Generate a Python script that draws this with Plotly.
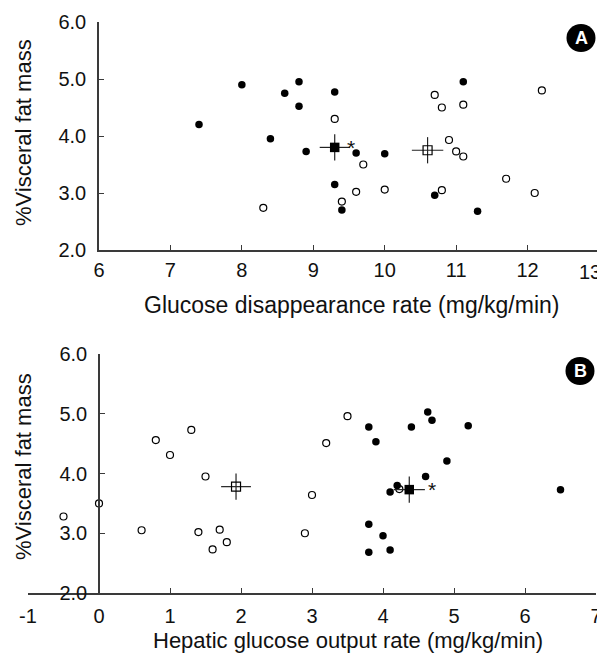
import plotly.graph_objects as go

# ---------- Panel A data: glucose disappearance rate vs %visceral fat mass
a_filled_x = [7.4, 8.0, 8.6, 8.8, 8.8, 9.3, 8.4, 8.9, 9.6, 9.3, 9.4, 11.1, 10.0, 10.7, 11.3]
a_filled_y = [4.2, 4.9, 4.75, 4.95, 4.52, 4.77, 3.95, 3.73, 3.7, 3.15, 2.7, 4.95, 3.69, 2.96, 2.68]
a_open_x = [9.3, 8.3, 9.6, 9.4, 10.7, 10.8, 11.1, 12.2, 10.9, 11.0, 11.1, 9.7, 10.0, 10.8, 11.7, 12.1]
a_open_y = [4.3, 2.74, 3.02, 2.85, 4.72, 4.5, 4.55, 4.8, 3.93, 3.73, 3.64, 3.5, 3.06, 3.05, 3.25, 3.0]
# means [filled, open] and SEM
a_mean_x = [9.3, 10.6]
a_mean_y = [3.80, 3.75]
a_sem_x = [0.21, 0.22]
a_sem_y = [0.23, 0.23]

# ---------- Panel B data: hepatic glucose output rate vs %visceral fat mass
b_filled_x = [4.63, 4.69, 3.8, 4.4, 5.2, 3.9, 4.9, 4.6, 4.2, 4.1, 6.5, 3.8, 4.0, 4.1, 3.8]
b_filled_y = [5.03, 4.89, 4.78, 4.78, 4.8, 4.53, 4.21, 3.95, 3.8, 3.69, 3.73, 3.15, 2.96, 2.72, 2.68]
b_open_x = [-0.5, 0.0, 0.6, 0.8, 1.0, 1.3, 1.5, 1.4, 1.7, 1.6, 1.8, 2.9, 3.0, 3.2, 3.5, 4.23]
b_open_y = [3.28, 3.5, 3.05, 4.56, 4.31, 4.73, 3.95, 3.02, 3.06, 2.73, 2.85, 3.0, 3.64, 4.51, 4.96, 3.74]
b_mean_x = [4.37, 1.93]
b_mean_y = [3.73, 3.78]
b_sem_x = [0.22, 0.21]
b_sem_y = [0.22, 0.22]

y_ticks = [2, 3, 4, 5, 6]
y_tick_text = ["2.0", "3.0", "4.0", "5.0", "6.0"]
a_x_ticks = [6, 7, 8, 9, 10, 11, 12, 13]
a_x_tick_text = ["6", "7", "8", "9", "10", "11", "12", ""]
b_x_ticks = [-1, 0, 1, 2, 3, 4, 5, 6, 7]
b_x_tick_text = ["-1", "0", "1", "2", "3", "4", "5", "6", "7"]

FONT = "Liberation Sans, Arial, sans-serif"
AX = "#3a3a3a"
TICK_SIZE = 20

# page body has an 8px margin; the figure is sized to fit the 605x654 window
OFF = 8
W, H = 605 - OFF, 654 - OFF
ML, MR, MT, MB = 28 - OFF, 6, 22 - OFF, 61
PW = W - ML - MR
PH = H - MT - MB

def px2x(p):
    return (p - OFF - ML) / PW

def py2y(p):
    return (H - MB - (p - OFF)) / PH

fig = go.Figure()

def add_panel(fx, fy, ox, oy, mx, my, sx, sy, xa, ya):
    fig.add_trace(go.Scatter(x=ox, y=oy, mode="markers", xaxis=xa, yaxis=ya,
                             marker=dict(symbol="circle", size=7, color="white",
                                         line=dict(color="black", width=1.2)),
                             showlegend=False))
    fig.add_trace(go.Scatter(x=fx, y=fy, mode="markers", xaxis=xa, yaxis=ya,
                             marker=dict(symbol="circle", size=7.5, color="black",
                                         line=dict(color="black", width=0)),
                             showlegend=False))
    fig.add_trace(go.Scatter(x=[mx[1]], y=[my[1]], mode="markers", xaxis=xa, yaxis=ya,
                             marker=dict(symbol="square", size=9, color="rgba(0,0,0,0)",
                                         line=dict(color="black", width=1.2)),
                             error_x=dict(type="data", array=[sx[1]], width=0, thickness=1.2, color="#222"),
                             error_y=dict(type="data", array=[sy[1]], width=0, thickness=1.2, color="#222"),
                             showlegend=False))
    fig.add_trace(go.Scatter(x=[mx[0]], y=[my[0]], mode="markers", xaxis=xa, yaxis=ya,
                             marker=dict(symbol="square", size=9.5, color="black",
                                         line=dict(color="black", width=0)),
                             error_x=dict(type="data", array=[sx[0]], width=0, thickness=1.2, color="#222"),
                             error_y=dict(type="data", array=[sy[0]], width=0, thickness=1.2, color="#222"),
                             showlegend=False))

add_panel(a_filled_x, a_filled_y, a_open_x, a_open_y, a_mean_x, a_mean_y, a_sem_x, a_sem_y, "x", "y")
add_panel(b_filled_x, b_filled_y, b_open_x, b_open_y, b_mean_x, b_mean_y, b_sem_x, b_sem_y, "x2", "y2")

axis_common = dict(showline=True, linecolor=AX, linewidth=1.5, ticks="inside", ticklen=5,
                   tickcolor=AX, tickwidth=1.2, showgrid=False, zeroline=False,
                   tickfont=dict(family=FONT, size=TICK_SIZE, color="#111"))

a_left = px2x(99)
fig.update_layout(
    width=W, height=H,
    margin=dict(l=ML, r=MR, t=MT, b=MB, autoexpand=False),
    paper_bgcolor="white", plot_bgcolor="white",
    xaxis=dict(domain=[a_left, 1], range=[6, 13], tickvals=a_x_ticks, ticktext=a_x_tick_text,
               anchor="y", ticklabelstandoff=1, **axis_common),
    yaxis=dict(domain=[py2y(250), 1], range=[2, 6], tickvals=y_ticks, ticktext=y_tick_text,
               anchor="x", ticklabelstandoff=7, **axis_common),
    xaxis2=dict(domain=[0, px2x(596)], range=[-1, 7], tickvals=b_x_ticks, ticktext=b_x_tick_text,
                anchor="y2", ticklabelstandoff=4, **axis_common),
    yaxis2=dict(domain=[0, py2y(354)], range=[2, 6], tickvals=y_ticks, ticktext=y_tick_text,
                anchor="free", position=a_left, ticklabelstandoff=7, **axis_common),
)

annotations = [
    dict(text="13", x=px2x(590), y=py2y(272), xref="paper", yref="paper", showarrow=False,
         xanchor="center", yanchor="middle", font=dict(family=FONT, size=TICK_SIZE, color="#111")),
    dict(text="Glucose disappearance rate (mg/kg/min)", x=px2x(351), y=py2y(305),
         xref="paper", yref="paper", showarrow=False, xanchor="center", yanchor="middle",
         font=dict(family=FONT, size=23, color="#111")),
    dict(text="Hepatic glucose output rate (mg/kg/min)", x=px2x(348), y=py2y(640),
         xref="paper", yref="paper", showarrow=False, xanchor="center", yanchor="middle",
         font=dict(family=FONT, size=22, color="#111")),
    dict(text="%Visceral fat mass", x=px2x(23), y=py2y(133), textangle=-90,
         xref="paper", yref="paper", showarrow=False, xanchor="center", yanchor="middle",
         font=dict(family=FONT, size=22, color="#111")),
    dict(text="%Visceral fat mass", x=px2x(23), y=py2y(467), textangle=-90,
         xref="paper", yref="paper", showarrow=False, xanchor="center", yanchor="middle",
         font=dict(family=FONT, size=22, color="#111")),
    dict(text="*", x=a_mean_x[0], y=a_mean_y[0], xref="x", yref="y", showarrow=False,
         xshift=16, yshift=0, font=dict(family=FONT, size=21, color="#111")),
    dict(text="*", x=b_mean_x[0], y=b_mean_y[0], xref="x2", yref="y2", showarrow=False,
         xshift=23, yshift=0, font=dict(family=FONT, size=21, color="#111")),
    dict(text="<b>A</b>", x=px2x(581), y=py2y(38), xref="paper", yref="paper", showarrow=False,
         xanchor="center", yanchor="middle", font=dict(family=FONT, size=18, color="white")),
    dict(text="<b>B</b>", x=px2x(580), y=py2y(371), xref="paper", yref="paper", showarrow=False,
         xanchor="center", yanchor="middle", font=dict(family=FONT, size=18, color="white")),
]
fig.update_layout(annotations=annotations)

shapes = []
for cx, cy in [(581, 38), (580, 371)]:
    shapes.append(dict(type="circle", xref="paper", yref="paper",
                       xsizemode="pixel", ysizemode="pixel",
                       xanchor=px2x(cx), yanchor=py2y(cy),
                       x0=-14.5, x1=14.5, y0=-14, y1=14,
                       fillcolor="black", line=dict(color="black", width=0), layer="below"))
fig.update_layout(shapes=shapes)

fig.write_html("out.html")
